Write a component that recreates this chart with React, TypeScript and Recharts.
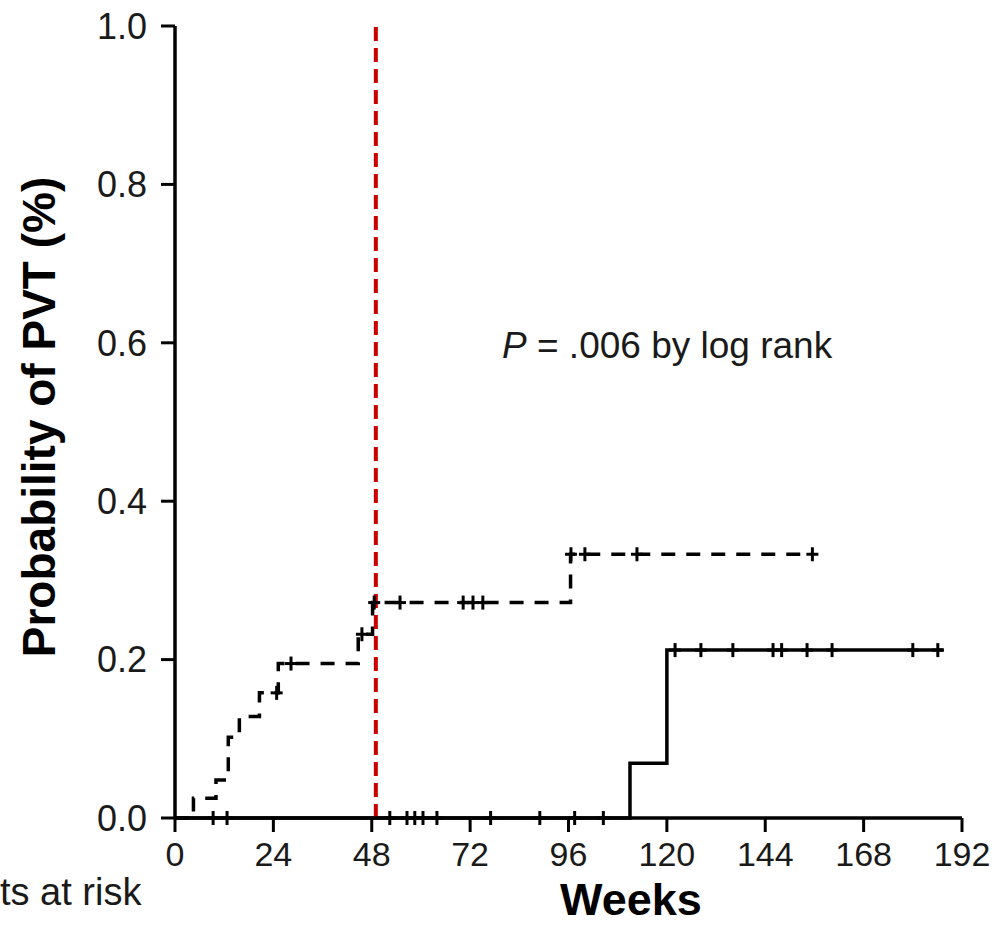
import { ComposedChart, Line, Scatter, XAxis, YAxis, ReferenceLine } from 'recharts';

// dashed group: step times (weeks) and cumulative probability
const dashedWeeks = [0, 4.5, 10, 13, 15.7, 20.6, 25.2, 44.7, 48.2, 96.5, 155.5];
const dashedProb = [0, 0.025, 0.048, 0.102, 0.128, 0.158, 0.195, 0.232, 0.272, 0.333, 0.333];
const dashedCensorWeeks = [24.8, 28.3, 45.6, 48.6, 54.9, 70.3, 72.7, 75.1, 96.6, 100, 112.7, 155.5];
const dashedCensorProb = [0.158, 0.195, 0.232, 0.272, 0.272, 0.272, 0.272, 0.272, 0.333, 0.333, 0.333, 0.333];

// solid group
const solidWeeks = [0, 111, 120, 187.5];
const solidProb = [0, 0.069, 0.212, 0.212];
const solidCensorWeeks = [9.3, 12.7, 52.4, 56.6, 58.5, 60.5, 63.9, 77, 89, 97.5, 104.5, 122, 128.3, 136.1, 145.9, 148, 154.2, 160.3, 180, 186.1];
const solidCensorProb = [0, 0, 0, 0, 0, 0, 0, 0, 0, 0, 0, 0.212, 0.212, 0.212, 0.212, 0.212, 0.212, 0.212, 0.212, 0.212];

const xTicks = [0, 24, 48, 72, 96, 120, 144, 168, 192];
const yTicks = [0, 0.2, 0.4, 0.6, 0.8, 1.0];
const cutoffWeek = 49;

const dashedData = dashedWeeks.map((x, i) => ({ x, y: dashedProb[i] }));
const dashedCensor = dashedCensorWeeks.map((x, i) => ({ x, y: dashedCensorProb[i] }));
const solidData = solidWeeks.map((x, i) => ({ x, y: solidProb[i] }));
const solidCensor = solidCensorWeeks.map((x, i) => ({ x, y: solidCensorProb[i] }));

const FONT = '"Liberation Sans", Arial, sans-serif';

const CensorMark = (props: any) => {
  const { cx, cy } = props;
  if (cx == null || cy == null) return null;
  return (
    <g>
      <line x1={cx} y1={cy - 7} x2={cx} y2={cy + 7} stroke="#000" strokeWidth={3} />
      <line x1={cx - 6} y1={cy} x2={cx + 6} y2={cy} stroke="#000" strokeWidth={3} />
    </g>
  );
};

export default function App() {
  return (
    <div style={{ position: 'absolute', left: 0, top: 0, width: 993, height: 925, background: '#fff' }}>
      <ComposedChart width={993} height={925} margin={{ top: 26, right: 31, left: 0, bottom: 0 }}>
        <XAxis
          type="number"
          dataKey="x"
          domain={[0, 192]}
          ticks={xTicks}
          height={107}
          tickSize={14}
          tickMargin={10}
          axisLine={{ stroke: '#000', strokeWidth: 3.5 }}
          tickLine={{ stroke: '#000', strokeWidth: 3 }}
          tick={{ fill: '#1a1a1a', fontSize: 34, fontFamily: FONT }}
          allowDataOverflow
        />
        <YAxis
          type="number"
          dataKey="y"
          domain={[0, 1]}
          ticks={yTicks}
          width={175}
          tickSize={14}
          tickMargin={14}
          tickFormatter={(v: number) => v.toFixed(1)}
          axisLine={{ stroke: '#000', strokeWidth: 3.5 }}
          tickLine={{ stroke: '#000', strokeWidth: 3 }}
          tick={{ fill: '#1a1a1a', fontSize: 36, fontFamily: FONT }}
        />
        <Line
          data={solidData}
          dataKey="y"
          type="stepAfter"
          stroke="#000"
          strokeWidth={3.5}
          dot={false}
          activeDot={false}
          isAnimationActive={false}
        />
        <Line
          data={dashedData}
          dataKey="y"
          type="stepAfter"
          stroke="#000"
          strokeWidth={3.5}
          strokeDasharray="14 11"
          dot={false}
          activeDot={false}
          isAnimationActive={false}
        />
        <Scatter data={solidCensor} dataKey="y" shape={CensorMark} isAnimationActive={false} />
        <Scatter data={dashedCensor} dataKey="y" shape={CensorMark} isAnimationActive={false} />
        <ReferenceLine x={cutoffWeek} stroke="#cc0000" strokeWidth={4} strokeDasharray="14 7" />
      </ComposedChart>
      <svg width={993} height={925} style={{ position: 'absolute', left: 0, top: 0, pointerEvents: 'none' }}>
        <text x={502} y={358} fontSize={37} fontFamily={FONT} fill="#1a1a1a">
          <tspan fontStyle="italic">P</tspan> = .006 by log rank
        </text>
        <text x={631} y={915} fontSize={45} fontWeight="bold" fontFamily={FONT} fill="#000" textAnchor="middle">
          Weeks
        </text>
        <text x={0} y={905} fontSize={38} fontFamily={FONT} fill="#1a1a1a">
          ts at risk
        </text>
        <text
          x={0}
          y={0}
          transform="translate(55, 417) rotate(-90)"
          fontSize={46}
          fontWeight="bold"
          fontFamily={FONT}
          fill="#000"
          textAnchor="middle"
        >
          Probability of PVT (%)
        </text>
      </svg>
    </div>
  );
}
